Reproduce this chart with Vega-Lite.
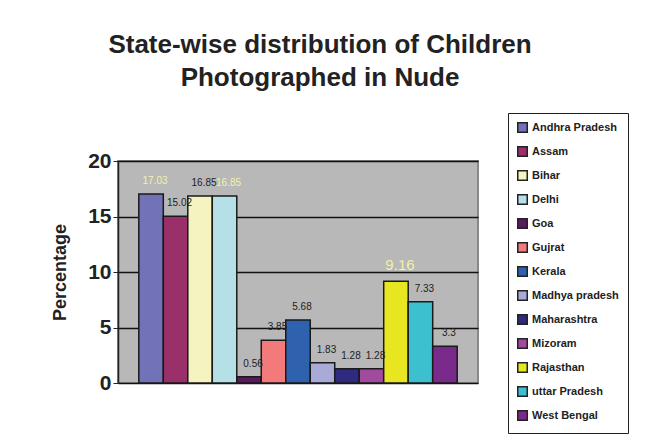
{
  "$schema": "https://vega.github.io/schema/vega-lite/v6.json",
  "width": 360,
  "height": 222,
  "autosize": "none",
  "padding": {"left": 118, "top": 161, "right": 173, "bottom": 61},
  "background": "white",
  "title": {
    "text": ["State-wise distribution of Children", "Photographed in Nude"],
    "font": "Liberation Sans",
    "fontSize": 26,
    "fontWeight": "bold",
    "color": "#222222",
    "anchor": "middle",
    "dx": 22,
    "offset": 22,
    "lineHeight": 33
  },
  "data": {
    "values": [
      {"state": "Andhra Pradesh", "pct": 17.03},
      {"state": "Assam", "pct": 15.02},
      {"state": "Bihar", "pct": 16.85},
      {"state": "Delhi", "pct": 16.85},
      {"state": "Goa", "pct": 0.56},
      {"state": "Gujrat", "pct": 3.85},
      {"state": "Kerala", "pct": 5.68},
      {"state": "Madhya pradesh", "pct": 1.83},
      {"state": "Maharashtra", "pct": 1.28},
      {"state": "Mizoram", "pct": 1.28},
      {"state": "Rajasthan", "pct": 9.16},
      {"state": "uttar Pradesh", "pct": 7.33},
      {"state": "West Bengal", "pct": 3.3}
    ]
  },
  "encoding": {
    "x": {
      "field": "state",
      "type": "nominal",
      "sort": null,
      "scale": {"paddingInner": 0, "paddingOuter": 0.85},
      "axis": null
    },
    "y": {
      "field": "pct",
      "type": "quantitative",
      "scale": {"domain": [0, 20], "nice": false},
      "axis": {
        "title": "Percentage",
        "titleFont": "Liberation Sans",
        "titleFontSize": 18,
        "titleFontWeight": "bold",
        "titleColor": "#222222",
        "titlePadding": 18,
        "values": [0, 5, 10, 15, 20],
        "labelFont": "Liberation Sans",
        "labelFontSize": 21,
        "labelFontWeight": "bold",
        "labelColor": "#222222",
        "labelPadding": 2,
        "tickColor": "#222222",
        "tickSize": 5,
        "domainColor": "#222222",
        "domainWidth": 1.5,
        "grid": true,
        "gridColor": "#111111",
        "gridWidth": 1.5
      }
    }
  },
  "layer": [
    {
      "mark": {"type": "bar", "stroke": "#1a1a1a", "strokeWidth": 1.5},
      "encoding": {
        "color": {
          "field": "state",
          "type": "nominal",
          "sort": null,
          "scale": {
            "range": ["#7272b8", "#9a2f6a", "#f5f3bf", "#b6e0e8", "#5a1a5e", "#f27a7a", "#2f62ae", "#aaaad8", "#2e2a80", "#a04aa0", "#e8e620", "#3cc0d0", "#7a2a8a"]
          },
          "legend": {
            "title": null,
            "orient": "none",
            "legendX": 390,
            "legendY": -48,
            "padding": 9,
            "strokeColor": "#222222",
            "fillColor": "white",
            "symbolType": "square",
            "symbolSize": 90,
            "symbolStrokeColor": "#222222",
            "symbolStrokeWidth": 1.5,
            "symbolOpacity": 1,
            "labelFont": "Liberation Sans",
            "labelFontSize": 11,
            "labelFontWeight": "bold",
            "labelColor": "#222222",
            "labelLimit": 200,
            "rowPadding": 7,
            "columnPadding": 0
          }
        }
      }
    },
    {
      "mark": {"type": "text", "dy": -8, "dx": 4, "font": "Liberation Sans", "baseline": "bottom"},
      "encoding": {
        "text": {"field": "pct", "type": "quantitative"},
        "color": {
          "condition": {"test": "indexof(['Andhra Pradesh','Delhi','Rajasthan'], datum.state) >= 0", "value": "#f4f0a8"},
          "value": "#222222"
        },
        "size": {
          "condition": {"test": "datum.state == 'Rajasthan'", "value": 15},
          "value": 10
        }
      }
    }
  ],
  "config": {
    "view": {"fill": "#b8b8b8", "stroke": "#888888", "strokeWidth": 2}
  }
}
